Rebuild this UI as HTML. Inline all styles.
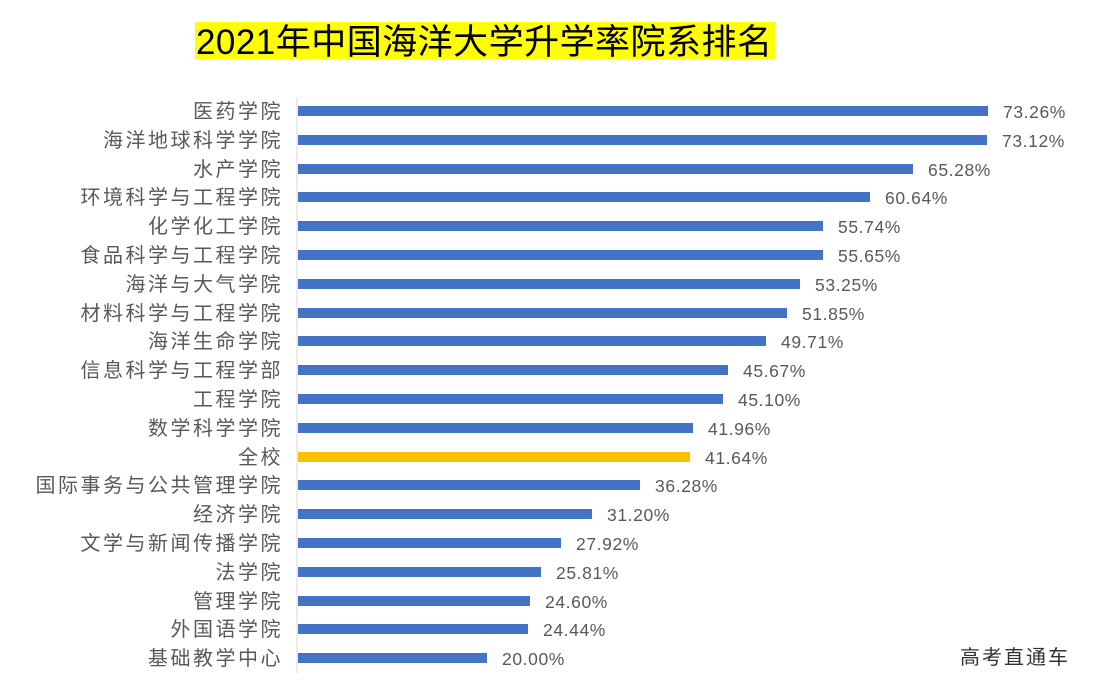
<!DOCTYPE html>
<html><head><meta charset="utf-8"><style>
html,body{margin:0;padding:0;background:#fff;}
svg{display:block;font-family:"Liberation Sans","Noto Sans CJK SC",sans-serif;}
.l{font-size:20px;fill:#595959;text-anchor:end;letter-spacing:2.5px;}
.v{font-size:17.5px;fill:#595959;letter-spacing:0.6px;}
</style></head><body>
<svg width="1098" height="696" viewBox="0 0 1098 696">
<rect x="195" y="22" width="580" height="37" fill="#ffff00"/>
<text x="196" y="54" font-size="35" fill="#000" textLength="576" lengthAdjust="spacing">2021年中国海洋大学升学率院系排名</text>
<line x1="297" y1="97" x2="297" y2="673" stroke="#d9d9d9" stroke-width="1"/>
<g fill="#4472c4">
<rect x="298" y="106" width="690" height="10"/>
<rect x="298" y="135" width="689" height="10"/>
<rect x="298" y="164" width="615" height="10"/>
<rect x="298" y="192" width="572" height="10"/>
<rect x="298" y="221" width="525" height="10"/>
<rect x="298" y="250" width="525" height="10"/>
<rect x="298" y="279" width="502" height="10"/>
<rect x="298" y="308" width="489" height="10"/>
<rect x="298" y="336" width="468" height="10"/>
<rect x="298" y="365" width="430" height="10"/>
<rect x="298" y="394" width="425" height="10"/>
<rect x="298" y="423" width="395" height="10"/>
<rect x="298" y="452" width="392" height="10" fill="#ffc000"/>
<rect x="298" y="480" width="342" height="10"/>
<rect x="298" y="509" width="294" height="10"/>
<rect x="298" y="538" width="263" height="10"/>
<rect x="298" y="567" width="243" height="10"/>
<rect x="298" y="596" width="232" height="10"/>
<rect x="298" y="624" width="230" height="10"/>
<rect x="298" y="653" width="189" height="10"/>
</g>
<g class="l">
<text x="283" y="118">医药学院</text>
<text x="283" y="147">海洋地球科学学院</text>
<text x="283" y="176">水产学院</text>
<text x="283" y="204">环境科学与工程学院</text>
<text x="283" y="233">化学化工学院</text>
<text x="283" y="262">食品科学与工程学院</text>
<text x="283" y="291">海洋与大气学院</text>
<text x="283" y="320">材料科学与工程学院</text>
<text x="283" y="348">海洋生命学院</text>
<text x="283" y="377">信息科学与工程学部</text>
<text x="283" y="406">工程学院</text>
<text x="283" y="435">数学科学学院</text>
<text x="283" y="464">全校</text>
<text x="283" y="492">国际事务与公共管理学院</text>
<text x="283" y="521">经济学院</text>
<text x="283" y="550">文学与新闻传播学院</text>
<text x="283" y="579">法学院</text>
<text x="283" y="608">管理学院</text>
<text x="283" y="636">外国语学院</text>
<text x="283" y="665">基础教学中心</text>
</g>
<g class="v">
<text x="1003" y="118">73.26%</text>
<text x="1002" y="147">73.12%</text>
<text x="928" y="176">65.28%</text>
<text x="885" y="204">60.64%</text>
<text x="838" y="233">55.74%</text>
<text x="838" y="262">55.65%</text>
<text x="815" y="291">53.25%</text>
<text x="802" y="320">51.85%</text>
<text x="781" y="348">49.71%</text>
<text x="743" y="377">45.67%</text>
<text x="738" y="406">45.10%</text>
<text x="708" y="435">41.96%</text>
<text x="705" y="464">41.64%</text>
<text x="655" y="492">36.28%</text>
<text x="607" y="521">31.20%</text>
<text x="576" y="550">27.92%</text>
<text x="556" y="579">25.81%</text>
<text x="545" y="608">24.60%</text>
<text x="543" y="636">24.44%</text>
<text x="502" y="665">20.00%</text>
</g>
<text x="960" y="664" font-size="20" fill="#333" letter-spacing="2">高考直通车</text>
</svg>
</body></html>
